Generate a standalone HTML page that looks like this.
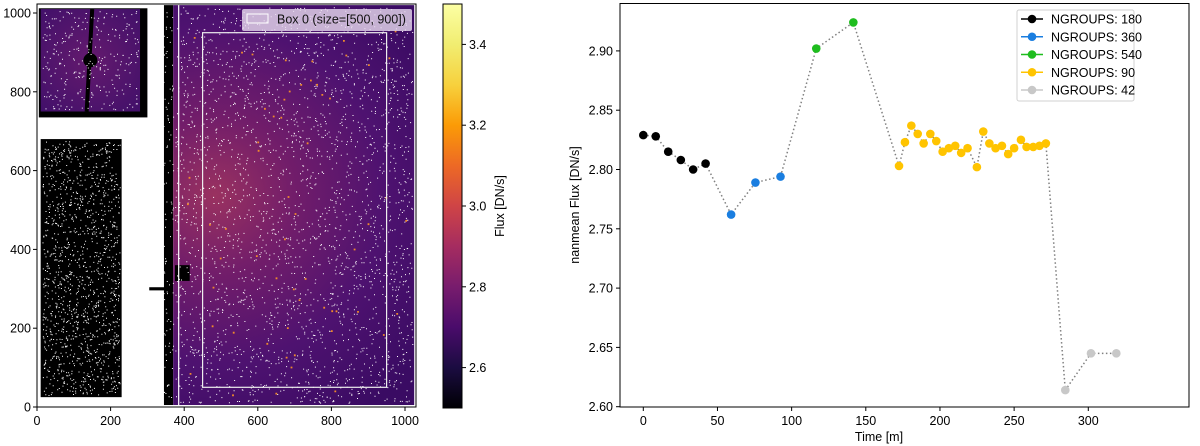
<!DOCTYPE html>
<html><head><meta charset="utf-8"><style>
body{margin:0;background:#fff;font-family:"Liberation Sans","DejaVu Sans",sans-serif}
svg{display:block}
</style></head><body>
<svg id="root" width="1200" height="446" viewBox="0 0 1200 446" xmlns="http://www.w3.org/2000/svg" font-family="Liberation Sans, DejaVu Sans, sans-serif">
<defs>
<radialGradient id="glow" cx="215" cy="195" r="260" gradientUnits="userSpaceOnUse">
<stop offset="0" stop-color="#9a3260"/><stop offset="0.3" stop-color="#721d6a"/><stop offset="0.65" stop-color="#4e1270"/><stop offset="1" stop-color="#3a0b63"/>
</radialGradient>
<radialGradient id="glow2" cx="90" cy="60" r="70" gradientUnits="userSpaceOnUse">
<stop offset="0" stop-color="#641a6e"/><stop offset="1" stop-color="#42106a"/>
</radialGradient>
<linearGradient id="inferno" x1="0" y1="1" x2="0" y2="0">
<stop offset="0" stop-color="#000004"/><stop offset="0.1" stop-color="#1b0c41"/><stop offset="0.2" stop-color="#4a0c6b"/><stop offset="0.3" stop-color="#781c6d"/><stop offset="0.4" stop-color="#a52c60"/><stop offset="0.5" stop-color="#cf4446"/><stop offset="0.6" stop-color="#ed6925"/><stop offset="0.7" stop-color="#fb9b06"/><stop offset="0.8" stop-color="#f7d13d"/><stop offset="0.9" stop-color="#f1ed71"/><stop offset="1" stop-color="#fcffa4"/>
</linearGradient>
</defs>
<g id="left"></g>
<g id="right"></g>
</svg>
<script>
const NS='http://www.w3.org/2000/svg';
function mk(p,tag,at,txt){const e=document.createElementNS(NS,tag);for(const k in at)e.setAttribute(k,at[k]);if(txt!==undefined)e.textContent=txt;p.appendChild(e);return e;}

// ---------- right chart data ----------
const seriesNames=['NGROUPS: 180','NGROUPS: 360','NGROUPS: 540','NGROUPS: 90','NGROUPS: 42'];
const seriesColors=['#000000','#1a7ee0','#1ebd1e','#ffc400','#c8c8c8'];
const times180=[0,8.4,16.8,25.3,33.6,42];
const flux180=[2.829,2.828,2.815,2.808,2.800,2.805];
const times360=[59.2,75.6,92.5];
const flux360=[2.762,2.789,2.794];
const times540=[116.6,141.6];
const flux540=[2.902,2.924];
const times90=[172.4,176.4,180.7,185,189,193.5,197.5,201.8,206,210.3,214.3,218.6,224.9,229.2,233.3,237.5,241.8,246,250,254.6,258.4,262.9,267.1,271.4];
const flux90=[2.803,2.823,2.837,2.830,2.822,2.830,2.824,2.815,2.818,2.820,2.814,2.818,2.802,2.832,2.822,2.818,2.820,2.813,2.818,2.825,2.819,2.819,2.820,2.822];
const times42=[284.5,301.8,318.9];
const flux42=[2.614,2.645,2.645];
const xTicks=[0,50,100,150,200,250,300];
const yTicks=[2.60,2.65,2.70,2.75,2.80,2.85,2.90];

// ---------- left image axes data ----------
const imgXTicks=[0,200,400,600,800,1000];
const imgYTicks=[0,200,400,600,800,1000];
const cbTicks=[2.6,2.8,3.0,3.2,3.4];

const R=document.getElementById('right');
const X=t=>643.3+t*1.4833;
const Y=v=>406.7-(v-2.60)*1186;
const PL=620,PR=1189,PT=3.5,PB=407;

let e=mk(R,'rect',{x:PL,y:PT,width:PR-PL,height:PB-PT,fill:'#fff',stroke:'none'});


const allT=[times180,times360,times540,times90,times42];
const allF=[flux180,flux360,flux540,flux90,flux42];
let pts=[];
allT.forEach((ts,i)=>ts.forEach((t,j)=>pts.push([X(t),Y(allF[i][j])])));
e=mk(R,'polyline',{points:pts.map(p=>p.join(',')).join(' '),fill:'none',stroke:'#808080','stroke-width':1.5,'stroke-dasharray':'1.5,2.5'});

allT.forEach((ts,i)=>{
  const g=mk(R,'g',{});
  
  ts.forEach((t,j)=>{const c=mk(g,'circle',{cx:X(t),cy:Y(allF[i][j]),r:4.3,fill:seriesColors[i]});
    });
});
e=mk(R,'rect',{x:PL,y:PT,width:PR-PL,height:PB-PT,fill:'none',stroke:'#000','stroke-width':1});

xTicks.forEach(t=>{mk(R,'line',{x1:X(t),x2:X(t),y1:PB,y2:PB+4,stroke:'#000'});
  const l=mk(R,'text',{x:X(t),y:PB+18,'text-anchor':'middle','font-size':12.5,fill:'#000'},String(t));
  });
yTicks.forEach(v=>{mk(R,'line',{x1:PL-4,x2:PL,y1:Y(v),y2:Y(v),stroke:'#000'});
  const l=mk(R,'text',{x:PL-7,y:Y(v)+4.5,'text-anchor':'end','font-size':12.5,fill:'#000'},v.toFixed(2));
  });
e=mk(R,'text',{x:879,y:441,'text-anchor':'middle','font-size':12.5},'Time [m]');

e=mk(R,'text',{x:0,y:0,'text-anchor':'middle','font-size':12.5,transform:'translate(579,205) rotate(-90)'},'nanmean Flux [DN/s]');

const lg=mk(R,'g',{});
mk(lg,'rect',{x:1017,y:10,width:117,height:91,rx:2,fill:'#fff',stroke:'#d0d0d0'});
seriesNames.forEach((n,i)=>{const y=19+i*17.75;
  const g=mk(lg,'g',{});
  mk(g,'line',{x1:1021,x2:1043,y1:y,y2:y,stroke:seriesColors[i],'stroke-width':1.5});
  mk(g,'circle',{cx:1032,cy:y,r:4.3,fill:seriesColors[i]});
  mk(g,'text',{x:1051,y:y+4.5,'font-size':12.5},n);});

// ---------- left image ----------
const L=document.getElementById('left');
const IX=d=>37+d*0.368, IY=d=>407-d*0.394;
function rect(x0,y0,x1,y1,fill,name){const r=mk(L,'rect',{x:IX(x0),y:IY(y1),width:IX(x1)-IX(x0),height:IY(y0)-IY(y1),fill:fill});
  return r;}
rect(0,-2,1030,1025,'#fff','image-background');
rect(5,735,300,1012,'#000','upper-left-border');
rect(10,750,280,1010,'url(#glow2)','upper-left-detector');
e=mk(L,'line',{x1:IX(150),y1:IY(1010),x2:IX(135),y2:IY(750),stroke:'#000','stroke-width':4});

e=mk(L,'circle',{cx:IX(145),cy:IY(880),r:7,fill:'#000'});

rect(10,25,230,680,'#000','lower-left-detector');
rect(345,5,370,1020,'#000','dark-strip');
rect(370,5,1025,1020,'url(#glow)','main-detector');
rect(305,296,365,304,'#000','notch');
rect(375,320,415,360,'#000','dark-square');
// speckle texture (deterministic)
let s=12345;const rnd=()=>{s=(s*1103515245+12345)%2147483648;return s/2147483648;};
const sp=mk(L,'g',{fill:'#fff'});
let d='';
function speck(x0,x1,y0,y1,n){for(let i=0;i<n;i++){const x=IX(x0+rnd()*(x1-x0)),y=IY(y0+rnd()*(y1-y0));d+=`M${x.toFixed(1)} ${y.toFixed(1)}h1v1h-1z`;}}
speck(375,1020,10,1015,2600);speck(15,225,30,675,1300);speck(15,275,755,1005,300);speck(340,370,10,1015,120);
mk(sp,'path',{d:d});
let d2='';const hot=mk(L,'g',{fill:'#f08a2a'});
for(let i=0;i<60;i++){const x=IX(400+rnd()*620),y=IY(20+rnd()*990);d2+=`M${x.toFixed(1)} ${y.toFixed(1)}h1.8v1.8h-1.8z`;}
mk(hot,'path',{d:d2});
e=mk(L,'line',{x1:IX(385),x2:IX(385),y1:IY(1020),y2:IY(5),stroke:'#fff','stroke-width':1.2});

e=mk(L,'rect',{x:IX(450),y:IY(950),width:IX(950)-IX(450),height:IY(50)-IY(950),fill:'none',stroke:'#eee','stroke-width':1.2});

e=mk(L,'rect',{x:37,y:4,width:379,height:403,fill:'none',stroke:'#000'});

const il=mk(L,'g',{});
mk(il,'rect',{x:242,y:9,width:170,height:22,rx:2,fill:'#e8dcef','fill-opacity':0.8});
mk(il,'rect',{x:247,y:14,width:21,height:9,fill:'none',stroke:'#fff'});
mk(il,'text',{x:277,y:23.5,'font-size':12.5,fill:'#111'},'Box 0 (size=[500, 900])');
imgXTicks.forEach(t=>{mk(L,'line',{x1:IX(t),x2:IX(t),y1:407,y2:411,stroke:'#000'});
  const l=mk(L,'text',{x:IX(t),y:425,'text-anchor':'middle','font-size':12.5},String(t));
  });
imgYTicks.forEach(t=>{mk(L,'line',{x1:33,x2:37,y1:IY(t),y2:IY(t),stroke:'#000'});
  const l=mk(L,'text',{x:31,y:IY(t)+4.5,'text-anchor':'end','font-size':12.5},String(t));
  });
// colorbar
const CY=v=>408-(v-2.5)*404;
e=mk(L,'rect',{x:443,y:4,width:19,height:404,fill:'url(#inferno)',stroke:'#000'});

cbTicks.forEach(v=>{mk(L,'line',{x1:462,x2:466,y1:CY(v),y2:CY(v),stroke:'#000'});
  const l=mk(L,'text',{x:469,y:CY(v)+4.5,'font-size':12.5},v.toFixed(1));
  });
e=mk(L,'text',{x:0,y:0,'text-anchor':'middle','font-size':12.5,transform:'translate(504,206) rotate(-90)'},'Flux [DN/s]');

</script>
</body></html>
